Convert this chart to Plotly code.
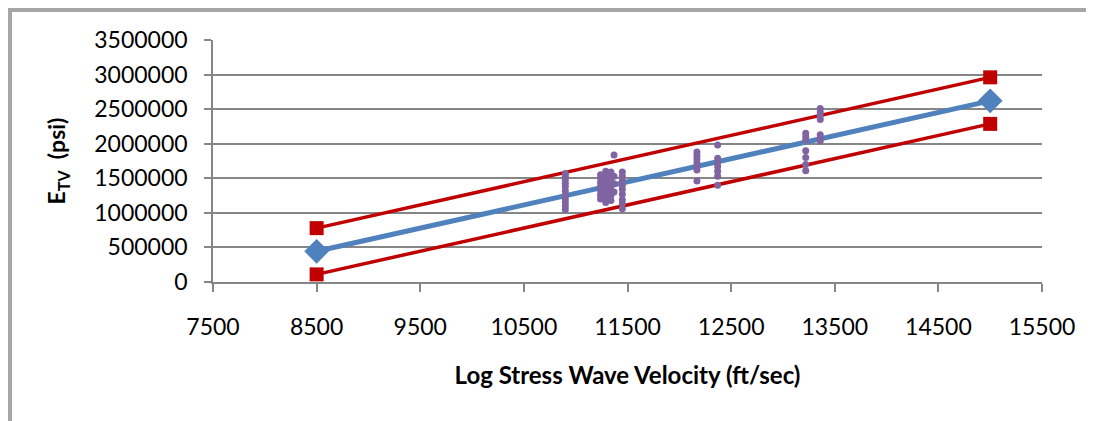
import plotly.graph_objects as go

# Fitted line and bounds
fit_x = [8500, 15000]
fit_y = [444000, 2620000]
upper_y = [779000, 2960000]
lower_y = [110000, 2287000]

# Observed data (log stress wave velocity, E_TV)
obs_x = (
    [10900] * 11
    + [11240] * 7 + [11290] * 8 + [11340] * 7 + [11370] * 4
    + [11450] * 9
    + [12170] * 7
    + [12370] * 7
    + [13220] * 7
    + [13360] * 7
)
obs_y = (
    [1050000, 1100000, 1150000, 1200000, 1260000, 1320000, 1380000, 1430000, 1480000, 1530000, 1570000]
    + [1200000, 1260000, 1320000, 1380000, 1440000, 1500000, 1550000]
    + [1150000, 1220000, 1290000, 1350000, 1410000, 1470000, 1530000, 1600000]
    + [1180000, 1250000, 1330000, 1400000, 1460000, 1520000, 1590000]
    + [1300000, 1420000, 1530000, 1835000]
    + [1060000, 1130000, 1190000, 1270000, 1340000, 1400000, 1460000, 1530000, 1590000]
    + [1460000, 1620000, 1670000, 1720000, 1780000, 1830000, 1880000]
    + [1400000, 1530000, 1600000, 1670000, 1730000, 1790000, 1980000]
    + [1610000, 1700000, 1800000, 1900000, 2050000, 2100000, 2150000]
    + [2040000, 2080000, 2130000, 2350000, 2400000, 2460000, 2510000]
)

x_ticks = [7500, 8500, 9500, 10500, 11500, 12500, 13500, 14500, 15500]
y_ticks = [0, 500000, 1000000, 1500000, 2000000, 2500000, 3000000, 3500000]

grey = "#868686"
font_family = "Lato, Open Sans, sans-serif"

fig = go.Figure()
fig.add_trace(go.Scatter(x=fit_x, y=upper_y, mode="lines+markers",
                         line=dict(color="#c00000", width=3.5),
                         marker=dict(symbol="square", size=14, color="#c00000")))
fig.add_trace(go.Scatter(x=fit_x, y=lower_y, mode="lines+markers",
                         line=dict(color="#c00000", width=3.5),
                         marker=dict(symbol="square", size=14, color="#c00000")))
fig.add_trace(go.Scatter(x=fit_x, y=fit_y, mode="lines+markers",
                         line=dict(color="#4f81bd", width=5),
                         marker=dict(symbol="diamond", size=19, color="#4f81bd")))
fig.add_trace(go.Scatter(x=obs_x, y=obs_y, mode="markers",
                         marker=dict(symbol="circle", size=7, color="#8064a2")))

# page body has an 8px margin, so shift the figure accordingly
fig.update_layout(
    width=1086, height=413,
    margin=dict(l=205, r=52, t=32, b=139),
    paper_bgcolor="white", plot_bgcolor="white",
    showlegend=False,
    font=dict(family=font_family, size=23, color="#000000"),
    shapes=[
        dict(type="rect", xref="paper", yref="paper",
             xsizemode="pixel", ysizemode="pixel",
             xanchor=0, yanchor=1,
             x0=-206, x1=-201, y0=-400, y1=33,
             fillcolor="#a6a6a6", line=dict(width=0), layer="above"),
        dict(type="rect", xref="paper", yref="paper",
             xsizemode="pixel", ysizemode="pixel",
             xanchor=0, yanchor=1,
             x0=-206, x1=900, y0=28, y1=33,
             fillcolor="#a6a6a6", line=dict(width=0), layer="above"),
    ],
)

fig.update_xaxes(
    range=[7500, 15500], tickvals=x_ticks, ticktext=[str(v) for v in x_ticks],
    showgrid=False, zeroline=False,
    showline=True, linecolor=grey, linewidth=1.5,
    ticks="outside", ticklen=8, tickcolor=grey, tickwidth=1.5,
    ticklabelstandoff=16,
    title=dict(text="<b>Log Stress Wave Velocity (ft/sec)</b>", standoff=28,
               font=dict(size=24)),
)
fig.update_yaxes(
    range=[0, 3500000], tickvals=y_ticks, ticktext=[str(v) for v in y_ticks],
    showgrid=True, gridcolor=grey, gridwidth=1.5,
    zeroline=False,
    showline=True, linecolor=grey, linewidth=1.5,
    ticks="outside", ticklen=7, tickcolor=grey, tickwidth=1.5,
    ticklabelstandoff=12,
    title=dict(text="<b>E<sub>TV</sub>  (psi)</b>", standoff=22,
               font=dict(size=23)),
)

fig.write_html("out.html")
